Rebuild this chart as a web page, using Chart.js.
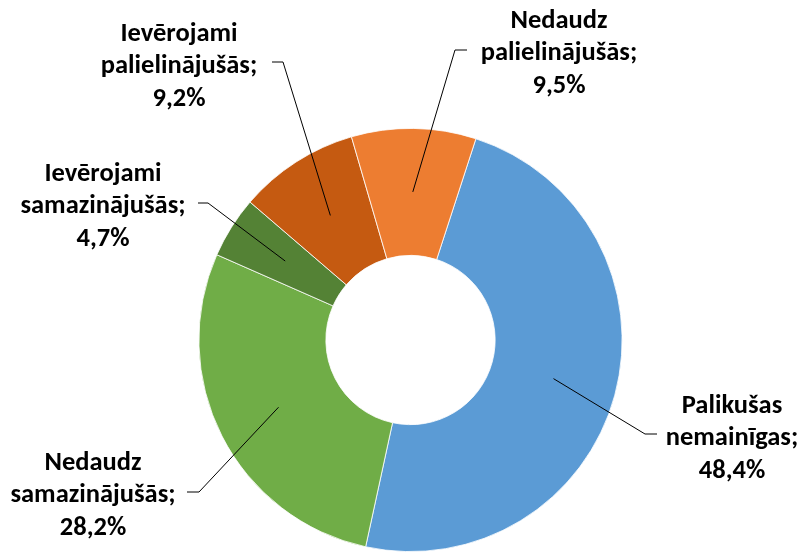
<!DOCTYPE html>
<html>
<head>
<meta charset="utf-8">
<script src="https://cdn.jsdelivr.net/npm/chart.js@4/dist/chart.umd.min.js"></script>
<style>
  html, body { margin: 0; padding: 0; background: #fff; }
  #wrap { width: 802px; height: 554px; }
</style>
</head>
<body>
<div id="wrap"><canvas id="c" width="802" height="554"></canvas></div>
<script>
// Category names (split into lines as shown) and their shares, %
const categories = [
  ['Palikušas', 'nemainīgas;'],
  ['Nedaudz', 'samazinājušās;'],
  ['Ievērojami', 'samazinājušās;'],
  ['Ievērojami', 'palielinājušās;'],
  ['Nedaudz', 'palielinājušās;']
];
const shares = [48.4, 28.2, 4.7, 9.2, 9.5];
const shareLabels = ['48,4%', '28,2%', '4,7%', '9,2%', '9,5%'];
const colors = ['#5B9BD5', '#70AD47', '#548235', '#C55A11', '#ED7D31'];

// Callout placement: text block centre, elbow point, and leader end (canvas px)
const callouts = [
  { text: [732, 406], elbow: [645, 434], end: [657, 434] },
  { text: [93, 463],  elbow: [199, 492], end: [187, 492] },
  { text: [103, 174], elbow: [208, 203], end: [198, 203] },
  { text: [179, 34],  elbow: [283, 62],  end: [272, 62] },
  { text: [559, 21],  elbow: [455, 50],  end: [467, 50] }
];

const FONT = 'bold 26.5px "Carlito", "Open Sans", sans-serif';
const LINE_H = 32.5;

const calloutPlugin = {
  id: 'callouts',
  afterDatasetsDraw(chart) {
    const ctx = chart.ctx;
    const meta = chart.getDatasetMeta(0);
    ctx.save();
    meta.data.forEach((arc, i) => {
      const p = arc.getCenterPoint();
      const c = callouts[i];
      ctx.beginPath();
      ctx.strokeStyle = '#000';
      ctx.lineWidth = 1;
      ctx.moveTo(p.x, p.y);
      ctx.lineTo(c.elbow[0], c.elbow[1]);
      ctx.lineTo(c.end[0], c.end[1]);
      ctx.stroke();

      const lines = categories[i].concat([shareLabels[i]]);
      ctx.font = FONT;
      ctx.fillStyle = '#000';
      ctx.textAlign = 'center';
      ctx.textBaseline = 'middle';
      lines.forEach((t, k) => {
        ctx.fillText(t, c.text[0], c.text[1] + k * LINE_H);
      });
    });
    ctx.restore();
  }
};

new Chart(document.getElementById('c'), {
  type: 'doughnut',
  data: {
    labels: categories.map(l => l.join(' ')),
    datasets: [{
      data: shares,
      backgroundColor: colors,
      borderColor: '#ffffff',
      borderWidth: 0.8,
      hoverOffset: 0
    }]
  },
  options: {
    responsive: false,
    animation: false,
    rotation: 18,
    cutout: '40%',
    layout: { padding: { top: 128, bottom: 2, left: 19, right: 0 } },
    plugins: {
      legend: { display: false },
      tooltip: { enabled: false }
    },
    events: []
  },
  plugins: [calloutPlugin]
});
</script>
</body>
</html>
